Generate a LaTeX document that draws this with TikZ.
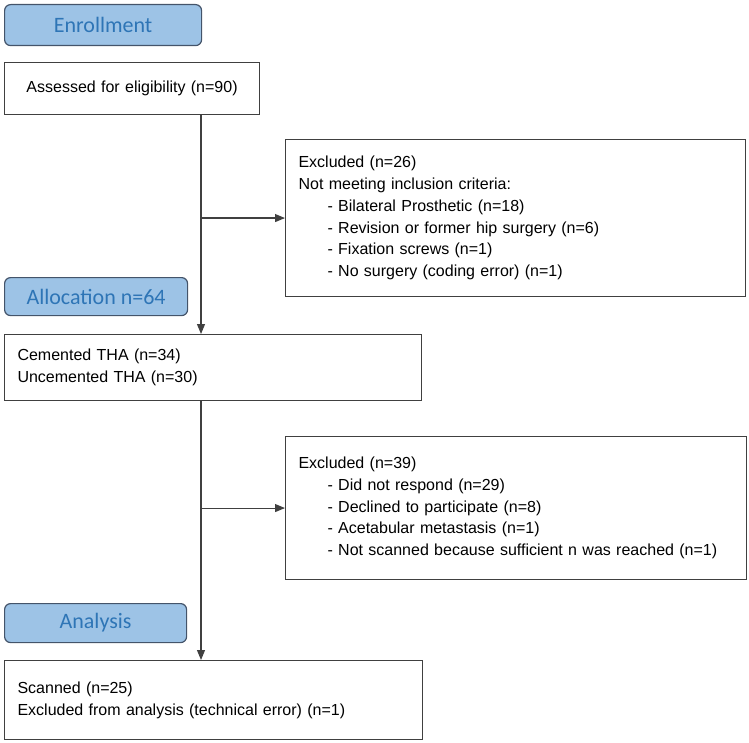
\documentclass[tikz,border=0pt]{standalone}
\usepackage{fontspec}
\setmainfont{Liberation Sans}
\newfontfamily\hdrfont{Carlito}
\usetikzlibrary{arrows.meta}

\definecolor{hdrfill}{HTML}{9DC3E6}
\definecolor{hdrtext}{HTML}{2E75B6}
\definecolor{hdrline}{HTML}{44546A}
\definecolor{boxline}{HTML}{404040}

\tikzset{
    phase/.style={draw=hdrline, fill=hdrfill, rounded corners=6pt, line width=1.2pt,
        anchor=north west, inner sep=0pt, text=hdrtext,
        font=\hdrfont\fontsize{22}{26}\selectfont},
    stage/.style={draw=boxline, line width=1.1pt, anchor=north west,
        inner xsep=13pt, inner ysep=0pt, align=left,
        font=\fontsize{16}{21.7}\selectfont},
    flow/.style={draw=boxline, line width=1.1pt, -{Triangle[length=10pt,width=8pt]}}
}

\newcommand{\sub}{\hspace*{29pt}- }

\begin{document}
\begin{tikzpicture}[x=1pt, y=-1pt]
            \useasboundingbox (0,0) rectangle (749,743);

            % phase headers
            \node[phase, minimum width=197pt, minimum height=41pt] (enroll) at (4,4) {Enrollment};
            \node[phase, minimum width=183pt, minimum height=38pt] (alloc) at (4,277) {Allocation n=64};
            \node[phase, minimum width=182pt, minimum height=39pt] (analysis) at (4,603) {Analysis};

            % boxes
            \node[stage, align=center, text width=229pt, minimum height=52pt] (assess) at (4,62)
                {Assessed for eligibility (n=90)};
            \node[stage, text width=434pt, minimum height=157pt] (excl1) at (285,139)
                {Excluded (n=26)\\
                 Not meeting inclusion criteria:\\
                 \sub Bilateral Prosthetic (n=18)\\
                 \sub Revision or former hip surgery (n=6)\\
                 \sub Fixation screws (n=1)\\
                 \sub No surgery (coding error) (n=1)};
            \node[stage, text width=391pt, minimum height=66pt] (cement) at (4,334)
                {Cemented THA (n=34)\\
                 Uncemented THA (n=30)};
            \node[stage, text width=435pt, minimum height=143pt] (excl2) at (285,436)
                {Excluded (n=39)\\
                 \sub Did not respond (n=29)\\
                 \sub Declined to participate (n=8)\\
                 \sub Acetabular metastasis (n=1)\\
                 \sub Not scanned because sufficient n was reached (n=1)};
            \node[stage, text width=392pt, minimum height=79pt] (scan) at (4,660)
                {Scanned (n=25)\\
                 Excluded from analysis (technical error) (n=1)};

            % connectors
            \coordinate (trunk) at (201,0);
            \draw[flow] (assess.south -| trunk) -- (cement.north -| trunk);
            \draw[flow] (cement.south -| trunk) -- (scan.north -| trunk);
            \draw[flow] (excl1.west -| trunk) -- (excl1.west);
            \draw[flow] (excl2.west -| trunk) -- (excl2.west);
        \end{tikzpicture}
\end{document}
